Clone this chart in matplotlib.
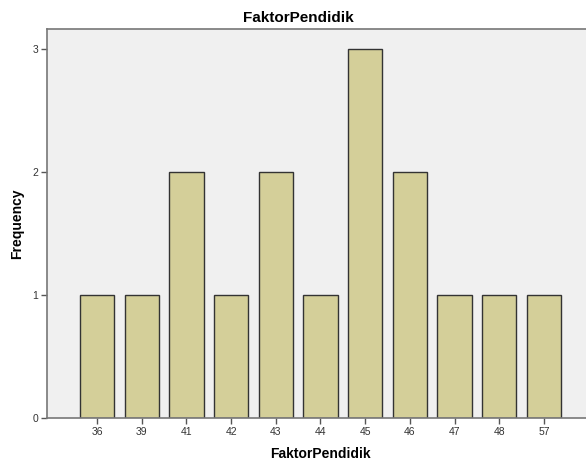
import matplotlib.pyplot as plt

plt.rcParams["font.family"] = ["Liberation Sans", "DejaVu Sans"]

categories = ["36", "39", "41", "42", "43", "44", "45", "46", "47", "48", "57"]
frequency = [1, 1, 2, 1, 2, 1, 3, 2, 1, 1, 1]

fig = plt.figure(figsize=(5.86, 4.61), dpi=100)
ax = fig.add_axes([0.0802, 0.0933, 0.9334, 0.8438])
ax.set_facecolor("#f0f0f0")

x = list(range(len(categories)))
ax.bar(x, frequency, width=0.77, color="#d4cf99", edgecolor="#333333", linewidth=1.0, zorder=2)

ax.set_xlim(-1.12, 11.12)
ax.set_ylim(0, 3.16)
ax.set_xticks(x)
ax.set_xticklabels(categories, fontsize=7.5, color="#333333")
ax.set_yticks([0, 1, 2, 3])
ax.set_yticklabels(["0", "1", "2", "3"], fontsize=7.5, color="#333333")
ax.tick_params(axis="both", length=4, width=1, color="#555555", pad=2.5)

for side in ["left", "bottom", "top"]:
    ax.spines[side].set_color("#777777")
    ax.spines[side].set_linewidth(1.2)
ax.spines["right"].set_visible(False)

# title sits centred on the figure, not the axes
fig.text(0.509, 0.962, "FaktorPendidik", fontsize=11, fontweight="bold", ha="center", va="center")
ax.set_xlabel("FaktorPendidik", fontsize=10, fontweight="bold", labelpad=7.5)
ax.set_ylabel("Frequency", fontsize=10, fontweight="bold", labelpad=6)

fig.savefig("out.png", dpi=100)
